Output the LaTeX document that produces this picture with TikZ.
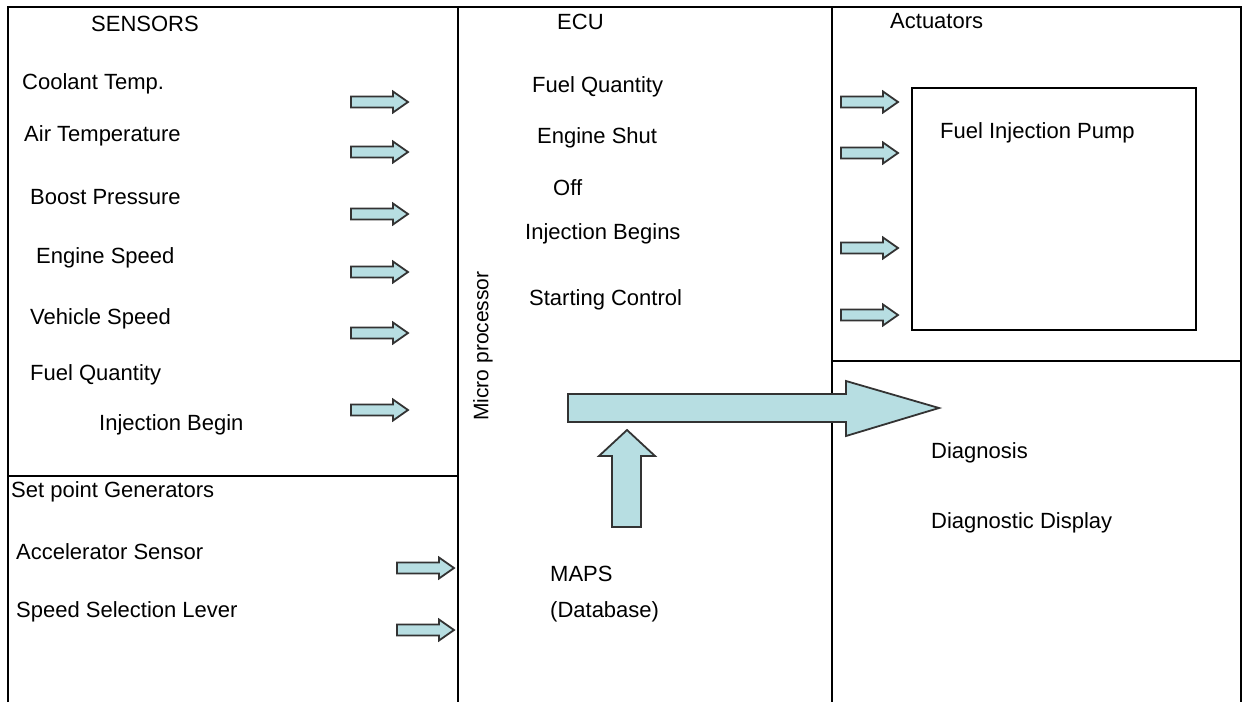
\documentclass[tikz,border=0pt]{standalone}
\usepackage{fontspec}
\setmainfont{Liberation Sans}
\begin{document}
\begin{tikzpicture}[x=1pt,y=-1pt,
  frame/.style={draw=black,line width=1.3pt},
  barrow/.style={draw=black!80,line width=1.8pt,fill=arrfill,line join=miter},
  lbl/.style={anchor=west,inner sep=0pt,font=\fontsize{22}{26}\selectfont},
  sarr/.pic={\draw[barrow] (0,-5.5) -- (42,-5.5) -- (42,-10.5) -- (57,0) -- (42,10.5) -- (42,5.5) -- (0,5.5) -- cycle;}
]
\definecolor{arrfill}{HTML}{B7DEE2}
\useasboundingbox (0,0) rectangle (1242,702);
\fill[white] (0,0) rectangle (1242,702);
% frame
\draw[frame] (8,702) -- (8,7) -- (1241,7) -- (1241,702);
\draw[frame] (458,7) -- (458,702);
\draw[frame] (832,7) -- (832,702);
\draw[frame] (8,476) -- (458,476);
\draw[draw=black,line width=2.6pt] (832,361) -- (1241,361);
\draw[frame] (912,88) rectangle (1196,330);
% sensors
\node[lbl] (sens) at (91,24) {SENSORS};
\node[lbl] (s1) at (22,84) {Coolant Temp.};
\node[lbl] (s2) at (24,136) {Air Temperature};
\node[lbl] (s3) at (30,197) {Boost Pressure};
\node[lbl] (s4) at (36,258) {Engine Speed};
\node[lbl] (s5) at (30,319) {Vehicle Speed};
\node[lbl] (s6) at (30,375) {Fuel Quantity};
\node[lbl] (s7) at (99,425) {Injection Begin};
\pic at (351,102) {sarr};
\pic at (351,152) {sarr};
\pic at (351,214) {sarr};
\pic at (351,272) {sarr};
\pic at (351,333) {sarr};
\pic at (351,410) {sarr};
% set point
\node[lbl] (sp) at (11,492) {Set point Generators};
\node[lbl] (sp1) at (16,552) {Accelerator Sensor};
\node[lbl] (sp2) at (16,612) {Speed Selection Lever};
\pic at (397,568) {sarr};
\pic at (397,630) {sarr};
% ECU
\node[lbl] (ecu) at (557,22) {ECU};
\node[lbl] (e1) at (532,87) {Fuel Quantity};
\node[lbl] (e2) at (537,138) {Engine Shut};
\node[lbl] (e3) at (553,188) {Off};
\node[lbl] (e4) at (525,234) {Injection Begins};
\node[lbl] (e5) at (529,300) {Starting Control};
\node[inner sep=0pt,rotate=90,font=\fontsize{21}{24}\selectfont] (mp) at (483,346) {Micro processor};
\node[lbl] (maps) at (550,574) {MAPS};
\node[lbl] (db) at (550,612) {(Database)};
% big arrows
\draw[barrow] (568,394) -- (846,394) -- (846,381) -- (939,408) -- (846,436) -- (846,422) -- (568,422) -- cycle;
\draw[barrow] (612,527) -- (612,456) -- (599,456) -- (627,430) -- (655,456) -- (641,456) -- (641,527) -- cycle;
% actuators
\node[lbl] (act) at (890,21) {Actuators};
\node[lbl] (fip) at (940,133) {Fuel Injection Pump};
\pic at (841,102) {sarr};
\pic at (841,153) {sarr};
\pic at (841,248) {sarr};
\pic at (841,315) {sarr};
% diagnosis
\node[lbl] (d1) at (931,453) {Diagnosis};
\node[lbl] (d2) at (931,523) {Diagnostic Display};
\end{tikzpicture}
\end{document}
